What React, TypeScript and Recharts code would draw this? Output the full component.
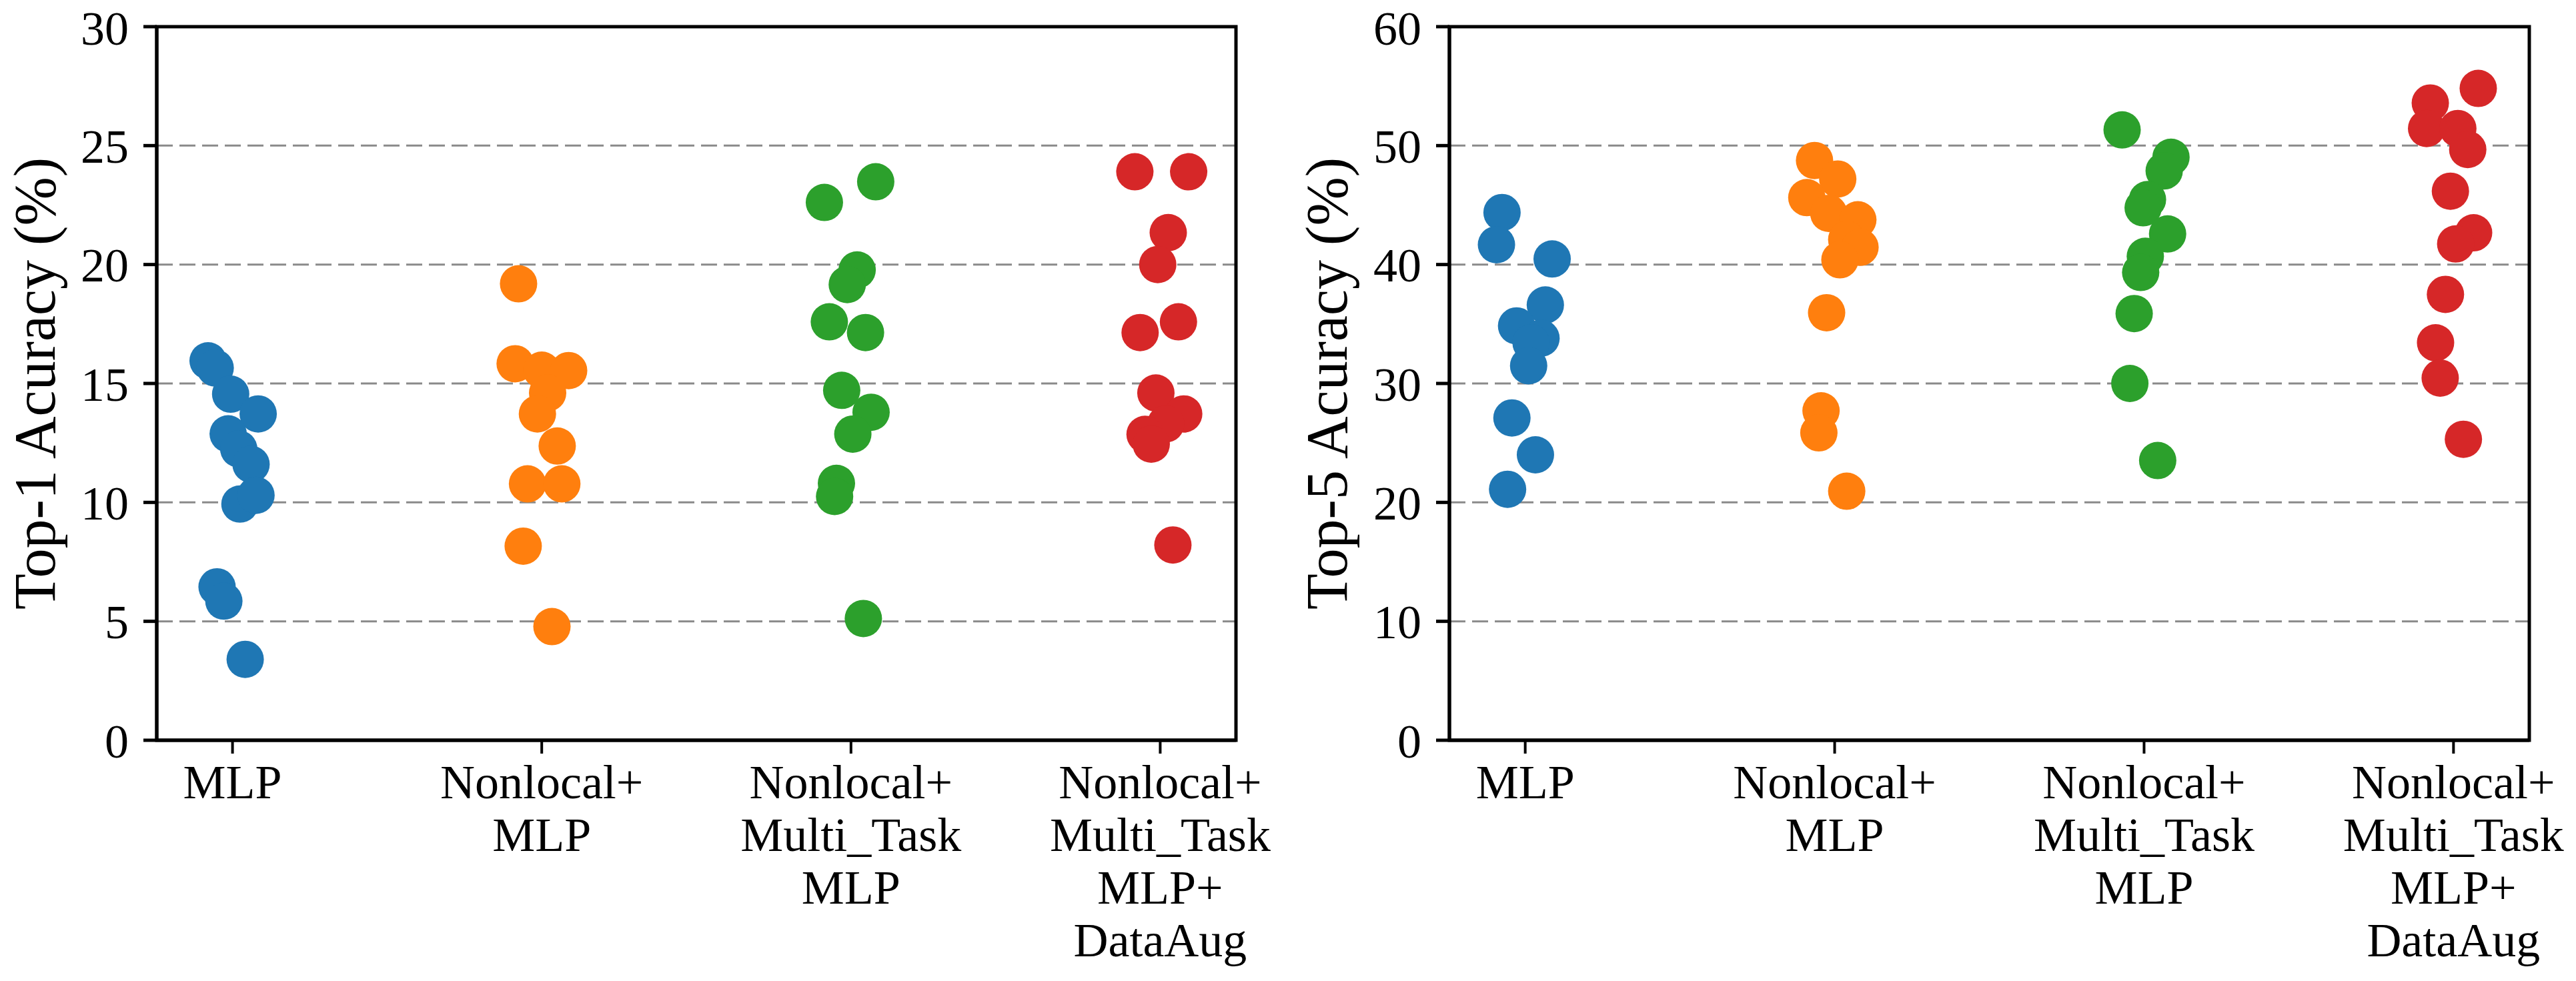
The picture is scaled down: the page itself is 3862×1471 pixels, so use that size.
import React from 'react';
import {
  ScatterChart,
  Scatter,
  XAxis,
  YAxis,
  CartesianGrid,
  ReferenceArea,
} from 'recharts';

const FONT = "'Liberation Serif', 'Times New Roman', Times, serif";

// category tick labels (one entry per line)
const categories = [
  ['MLP'],
  ['Nonlocal+', 'MLP'],
  ['Nonlocal+', 'Multi_Task', 'MLP'],
  ['Nonlocal+', 'Multi_Task', 'MLP+', 'DataAug'],
];
const colors = ['#1f77b4', '#ff7f0e', '#2ca02c', '#d62728'];

const top1Ticks = [0, 5, 10, 15, 20, 25, 30];
const top5Ticks = [0, 10, 20, 30, 40, 50, 60];

// Top-1 accuracy per run, with horizontal jitter
const top1Mlp = [15.95, 15.65, 14.55, 13.72, 12.88, 12.25, 11.6, 9.93, 10.3, 6.45, 5.85, 3.4];
const top1MlpJitter = [-0.079, -0.056, -0.006, 0.083, -0.014, 0.02, 0.06, 0.024, 0.076, -0.05, -0.028, 0.041];
const top1Nonlocal = [19.19, 15.83, 15.56, 15.54, 14.6, 13.72, 12.37, 10.78, 10.78, 8.16, 4.78];
const top1NonlocalJitter = [-0.075, -0.086, 0.0, 0.087, 0.019, -0.014, 0.05, -0.046, 0.065, -0.06, 0.033];
const top1Multi = [22.61, 23.48, 19.77, 19.16, 17.59, 17.14, 14.71, 13.79, 12.87, 10.8, 10.25, 5.12];
const top1MultiJitter = [-0.086, 0.08, 0.02, -0.012, -0.07, 0.047, -0.03, 0.065, 0.006, -0.047, -0.053, 0.04];
const top1Aug = [23.9, 23.9, 21.34, 20.0, 17.14, 17.59, 14.6, 13.72, 13.3, 12.86, 12.45, 8.21];
const top1AugJitter = [-0.082, 0.092, 0.026, -0.008, -0.065, 0.059, -0.014, 0.076, 0.018, -0.049, -0.029, 0.041];

// Top-5 accuracy per run
const top5Mlp = [44.37, 41.67, 40.47, 36.6, 34.84, 33.8, 33.4, 31.49, 27.1, 24.0, 21.1];
const top5MlpJitter = [-0.075, -0.093, 0.087, 0.065, -0.028, 0.051, 0.019, 0.011, -0.043, 0.033, -0.057];
const top5Nonlocal = [48.75, 47.19, 45.63, 44.3, 43.76, 42.1, 41.45, 40.4, 35.95, 27.7, 25.85, 20.94];
const top5NonlocalJitter = [-0.065, 0.01, -0.09, -0.019, 0.075, 0.039, 0.082, 0.017, -0.026, -0.044, -0.051, 0.039];
const top5Multi = [51.32, 49.02, 47.87, 45.46, 44.77, 42.57, 40.69, 39.33, 35.88, 30.0, 23.52];
const top5MultiJitter = [-0.071, 0.087, 0.065, 0.011, -0.003, 0.076, 0.004, -0.011, -0.032, -0.046, 0.044];
const top5Aug = [54.81, 53.58, 51.44, 51.44, 49.67, 46.17, 42.67, 41.73, 37.49, 33.42, 30.45, 25.31];
const top5AugJitter = [0.08, -0.075, -0.087, 0.014, 0.046, -0.01, 0.065, 0.007, -0.026, -0.058, -0.043, 0.032];

const X_DOMAIN: [number, number] = [-0.245, 3.245];

const toPoints = (vals: number[], jit: number[], idx: number) =>
  vals.map((y, i) => ({ x: idx + jit[i], y }));

const CategoryTick = (props: any) => {
  const { x, y, payload } = props;
  const lines = categories[payload.value] || [];
  return (
    <text x={x} y={y} textAnchor="middle" fontSize={72} fontFamily={FONT} fill="#000">
      {lines.map((l, i) => (
        <tspan key={i} x={x} dy={i === 0 ? 67 : 79}>
          {l}
        </tspan>
      ))}
    </text>
  );
};

type PanelProps = {
  left: number;
  width: number;
  axisWidth: number;
  rightMargin: number;
  labelOffset: number;
  yLabel: string;
  yTicks: number[];
  groups: { x: number; y: number }[][];
};

function Panel({ left, width, axisWidth, rightMargin, labelOffset, yLabel, yTicks, groups }: PanelProps) {
  const yMax = yTicks[yTicks.length - 1];
  return (
    <div style={{ position: 'absolute', left, top: 0 }}>
      <ScatterChart
        width={width}
        height={1471}
        margin={{ top: 40, right: rightMargin, bottom: 0, left: 0 }}
      >
        <CartesianGrid
          vertical={false}
          stroke="#8a8a8a"
          strokeWidth={3}
          strokeDasharray="24 10"
        />
        <XAxis
          type="number"
          dataKey="x"
          domain={X_DOMAIN}
          ticks={[0, 1, 2, 3]}
          allowDataOverflow
          height={361}
          tickSize={20}
          tickMargin={0}
          tick={<CategoryTick />}
          axisLine={{ stroke: '#000', strokeWidth: 5 }}
          tickLine={{ stroke: '#000', strokeWidth: 4 }}
        />
        <YAxis
          type="number"
          dataKey="y"
          domain={[0, yMax]}
          ticks={yTicks}
          allowDataOverflow
          width={axisWidth}
          tickSize={20}
          tickMargin={22}
          tick={{ fontSize: 72, fill: '#000', fontFamily: FONT }}
          axisLine={{ stroke: '#000', strokeWidth: 5 }}
          tickLine={{ stroke: '#000', strokeWidth: 5 }}
          label={{
            value: yLabel,
            angle: -90,
            position: 'insideLeft',
            offset: labelOffset,
            style: { textAnchor: 'middle', fontSize: 88, fill: '#000', fontFamily: FONT },
          }}
        />
        {groups.map((pts, gi) => (
          <Scatter
            key={gi}
            data={pts}
            isAnimationActive={false}
            shape={(p: any) => <circle cx={p.cx} cy={p.cy} r={28} fill={colors[gi]} />}
          />
        ))}
        <ReferenceArea
          x1={X_DOMAIN[0]}
          x2={X_DOMAIN[1]}
          y1={0}
          y2={yMax}
          fill="none"
          fillOpacity={0}
          stroke="#000"
          strokeWidth={5}
          ifOverflow="visible"
        />
      </ScatterChart>
    </div>
  );
}

export default function App() {
  const top1Groups = [
    toPoints(top1Mlp, top1MlpJitter, 0),
    toPoints(top1Nonlocal, top1NonlocalJitter, 1),
    toPoints(top1Multi, top1MultiJitter, 2),
    toPoints(top1Aug, top1AugJitter, 3),
  ];
  const top5Groups = [
    toPoints(top5Mlp, top5MlpJitter, 0),
    toPoints(top5Nonlocal, top5NonlocalJitter, 1),
    toPoints(top5Multi, top5MultiJitter, 2),
    toPoints(top5Aug, top5AugJitter, 3),
  ];
  return (
    <div
      style={{
        position: 'absolute',
        left: 0,
        top: 0,
        width: 3862,
        height: 1471,
        background: '#fff',
        overflow: 'hidden',
      }}
    >
      <Panel
        left={1900}
        width={1962}
        axisWidth={273}
        rightMargin={70}
        labelOffset={88}
        yLabel="Top-5 Acuracy (%)"
        yTicks={top5Ticks}
        groups={top5Groups}
      />
      <Panel
        left={0}
        width={1990}
        axisWidth={235}
        rightMargin={137}
        labelOffset={51}
        yLabel="Top-1 Acuracy (%)"
        yTicks={top1Ticks}
        groups={top1Groups}
      />
    </div>
  );
}
